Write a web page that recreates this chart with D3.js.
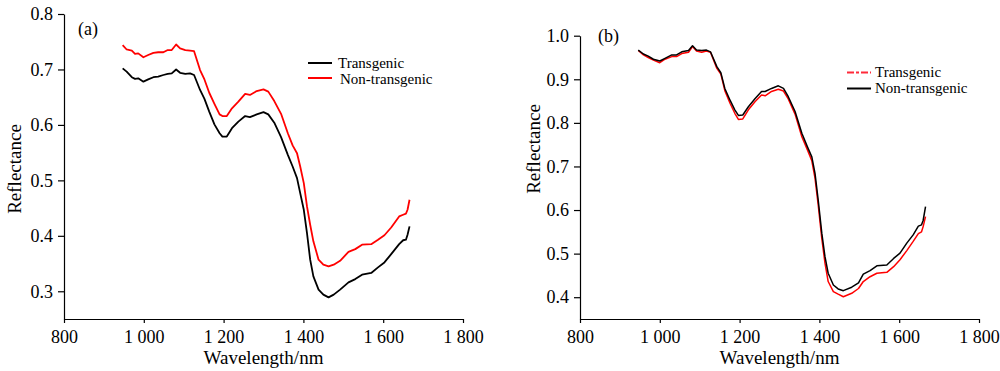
<!DOCTYPE html>
<html lang="en">
<head>
    <meta charset="UTF-8">
    <title>Reflectance spectra</title>
    <script src="https://cdn.jsdelivr.net/npm/d3@7"></script>
    <style>
        body { margin: 0; background: #fff; }
        text { font-family: "Liberation Serif", "Times New Roman", serif; fill: #000; }
        .axis path, .axis line { stroke: #000; stroke-width: 1.2px; }
        .axis text { font-size: 18px; font-family: "Liberation Serif", "Times New Roman", serif; }
    </style>
</head>
<body>
<script>
    // panel (a)
    var wlA = [947, 957, 970, 978, 986, 999, 1011, 1024, 1036, 1049, 1060, 1070, 1081, 1091, 1104, 1116, 1126,
        1141, 1152, 1164, 1177, 1190, 1197, 1208, 1221, 1237, 1254, 1266, 1283, 1300, 1312, 1327, 1344, 1361,
        1373, 1384, 1392, 1401, 1409, 1417, 1425, 1438, 1450, 1463, 1476, 1492, 1513, 1530, 1547, 1570, 1587,
        1603, 1620, 1640, 1650, 1657, 1661, 1666];
    var transA = [0.702, 0.696, 0.686, 0.683, 0.684, 0.678, 0.682, 0.686, 0.687, 0.690, 0.692, 0.693, 0.700, 0.694,
        0.692, 0.693, 0.690, 0.663, 0.647, 0.624, 0.601, 0.585, 0.579, 0.579, 0.594, 0.606, 0.616, 0.614, 0.619,
        0.623, 0.619, 0.604, 0.578, 0.546, 0.525, 0.504, 0.477, 0.447, 0.405, 0.357, 0.327, 0.303, 0.294, 0.289,
        0.294, 0.303, 0.316, 0.322, 0.330, 0.333, 0.343, 0.352, 0.367, 0.385, 0.392, 0.393, 0.402, 0.417];
    var nonA = [0.744, 0.736, 0.734, 0.728, 0.729, 0.722, 0.726, 0.730, 0.731, 0.731, 0.735, 0.735, 0.745, 0.738,
        0.735, 0.734, 0.733, 0.699, 0.682, 0.658, 0.638, 0.619, 0.616, 0.616, 0.630, 0.642, 0.656, 0.654, 0.661,
        0.664, 0.660, 0.643, 0.620, 0.585, 0.563, 0.549, 0.525, 0.495, 0.453, 0.420, 0.390, 0.357, 0.348, 0.345,
        0.348, 0.355, 0.371, 0.376, 0.384, 0.385, 0.393, 0.401, 0.415, 0.435, 0.438, 0.440, 0.447, 0.465];

    // panel (b)
    var wlB = [946, 959, 971, 984, 1000, 1013, 1030, 1042, 1055, 1072, 1082, 1092, 1105, 1117, 1127, 1143, 1153,
        1163, 1176, 1188, 1197, 1208, 1222, 1239, 1255, 1264, 1280, 1297, 1310, 1322, 1339, 1356, 1370, 1381,
        1389, 1397, 1406, 1414, 1422, 1435, 1447, 1460, 1481, 1498, 1510, 1527, 1544, 1569, 1586, 1602, 1619,
        1635, 1648, 1656, 1660, 1666];
    var transB = [0.966, 0.956, 0.950, 0.944, 0.938, 0.946, 0.952, 0.952, 0.959, 0.962, 0.975, 0.965, 0.962, 0.965,
        0.962, 0.925, 0.912, 0.874, 0.845, 0.822, 0.808, 0.809, 0.830, 0.849, 0.864, 0.862, 0.872, 0.877, 0.873,
        0.855, 0.820, 0.768, 0.738, 0.713, 0.673, 0.612, 0.535, 0.478, 0.436, 0.413, 0.407, 0.401, 0.409, 0.420,
        0.436, 0.447, 0.455, 0.457, 0.470, 0.486, 0.507, 0.528, 0.546, 0.550, 0.562, 0.585];
    var nonB = [0.967, 0.958, 0.953, 0.946, 0.942, 0.948, 0.956, 0.956, 0.963, 0.966, 0.977, 0.967, 0.966, 0.967,
        0.963, 0.929, 0.915, 0.879, 0.852, 0.830, 0.817, 0.818, 0.837, 0.856, 0.872, 0.872, 0.879, 0.885, 0.879,
        0.860, 0.826, 0.776, 0.745, 0.722, 0.684, 0.623, 0.547, 0.493, 0.455, 0.428, 0.419, 0.415, 0.423, 0.433,
        0.453, 0.461, 0.472, 0.474, 0.489, 0.501, 0.524, 0.543, 0.563, 0.566, 0.576, 0.608];

    var xTicks = [800, 1000, 1200, 1400, 1600, 1800];
    var yTicksA = [0.3, 0.4, 0.5, 0.6, 0.7, 0.8];
    var yTicksB = [0.4, 0.5, 0.6, 0.7, 0.8, 0.9, 1.0];

    var svg = d3.select("body").append("svg")
        .attr("width", 1000)
        .attr("height", 371);

    function fmtWl(d) {
        return d >= 1000 ? Math.floor(d / 1000) + " " + d3.format("03d")(d % 1000) : String(d);
    }

    function drawPanel(p) {
        var x = d3.scaleLinear().domain([800, 1800]).range([p.left, p.right]);
        var y = d3.scaleLinear().domain(p.yDomain).range([319, p.top]);
        var g = svg.append("g");

        g.append("g")
            .attr("class", "axis")
            .attr("transform", "translate(0,319)")
            .call(d3.axisBottom(x).tickValues(xTicks).tickFormat(fmtWl)
                .tickSize(4).tickSizeOuter(0).tickPadding(7));

        g.append("g")
            .attr("class", "axis")
            .attr("transform", "translate(" + p.left + ",0)")
            .call(d3.axisLeft(y).tickValues(p.yTicks).tickFormat(d3.format(".1f"))
                .tickSize(6).tickSizeOuter(0).tickPadding(5));

        var line = d3.line()
            .x(function(d) { return x(d[0]); })
            .y(function(d) { return y(d[1]); });

        p.series.forEach(function(s) {
            g.append("path")
                .datum(d3.zip(p.wl, s.values))
                .attr("fill", "none")
                .attr("stroke", s.color)
                .attr("stroke-width", p.lw)
                .attr("stroke-linejoin", "round")
                .attr("d", line);
        });

        // labels
        g.append("text")
            .attr("x", (p.left + p.right) / 2)
            .attr("y", 364)
            .attr("text-anchor", "middle")
            .style("font-size", "19px")
            .text("Wavelength/nm");

        g.append("text")
            .attr("transform", "translate(" + p.ylabX + "," + p.ylabY + ") rotate(-90)")
            .attr("text-anchor", "middle")
            .style("font-size", "19px")
            .text("Reflectance");

        g.append("text")
            .attr("x", p.tagX)
            .attr("y", p.tagY)
            .style("font-size", "18px")
            .text(p.tag);

        // legend
        p.legend.forEach(function(l, i) {
            g.append("line")
                .attr("x1", p.legX).attr("x2", p.legX + 24)
                .attr("y1", l.ly).attr("y2", l.ly)
                .attr("stroke", l.color)
                .attr("stroke-width", 2)
                .attr("stroke-dasharray", l.dash || null);
            g.append("text")
                .attr("x", l.tx)
                .attr("y", l.ty)
                .style("font-size", "15px")
                .text(l.name);
        });
    }

    drawPanel({
        left: 64, right: 463, top: 14, yDomain: [0.25, 0.8], yTicks: yTicksA,
        wl: wlA, lw: 1.8,
        series: [{ values: transA, color: "#000" }, { values: nonA, color: "#ff0000" }],
        ylabX: 21, ylabY: 169, tag: "(a)", tagX: 78, tagY: 35,
        legX: 308,
        legend: [
            { name: "Transgenic", color: "#000", ly: 63, tx: 338, ty: 68 },
            { name: "Non-transgenic", color: "#ff0000", ly: 78, tx: 340, ty: 84 }
        ]
    });

    drawPanel({
        left: 580, right: 979, top: 35.7, yDomain: [0.35, 1.0], yTicks: yTicksB,
        wl: wlB, lw: 1.5,
        series: [{ values: transB, color: "#ff0000" }, { values: nonB, color: "#000" }],
        ylabX: 540, ylabY: 149, tag: "(b)", tagX: 598, tagY: 42,
        legX: 847,
        legend: [
            { name: "Transgenic", color: "#ff2a3a", dash: "7,2,3,2", ly: 72.5, tx: 875, ty: 77 },
            { name: "Non-transgenic", color: "#000", ly: 88.5, tx: 875, ty: 93 }
        ]
    });
</script>
</body>
</html>
